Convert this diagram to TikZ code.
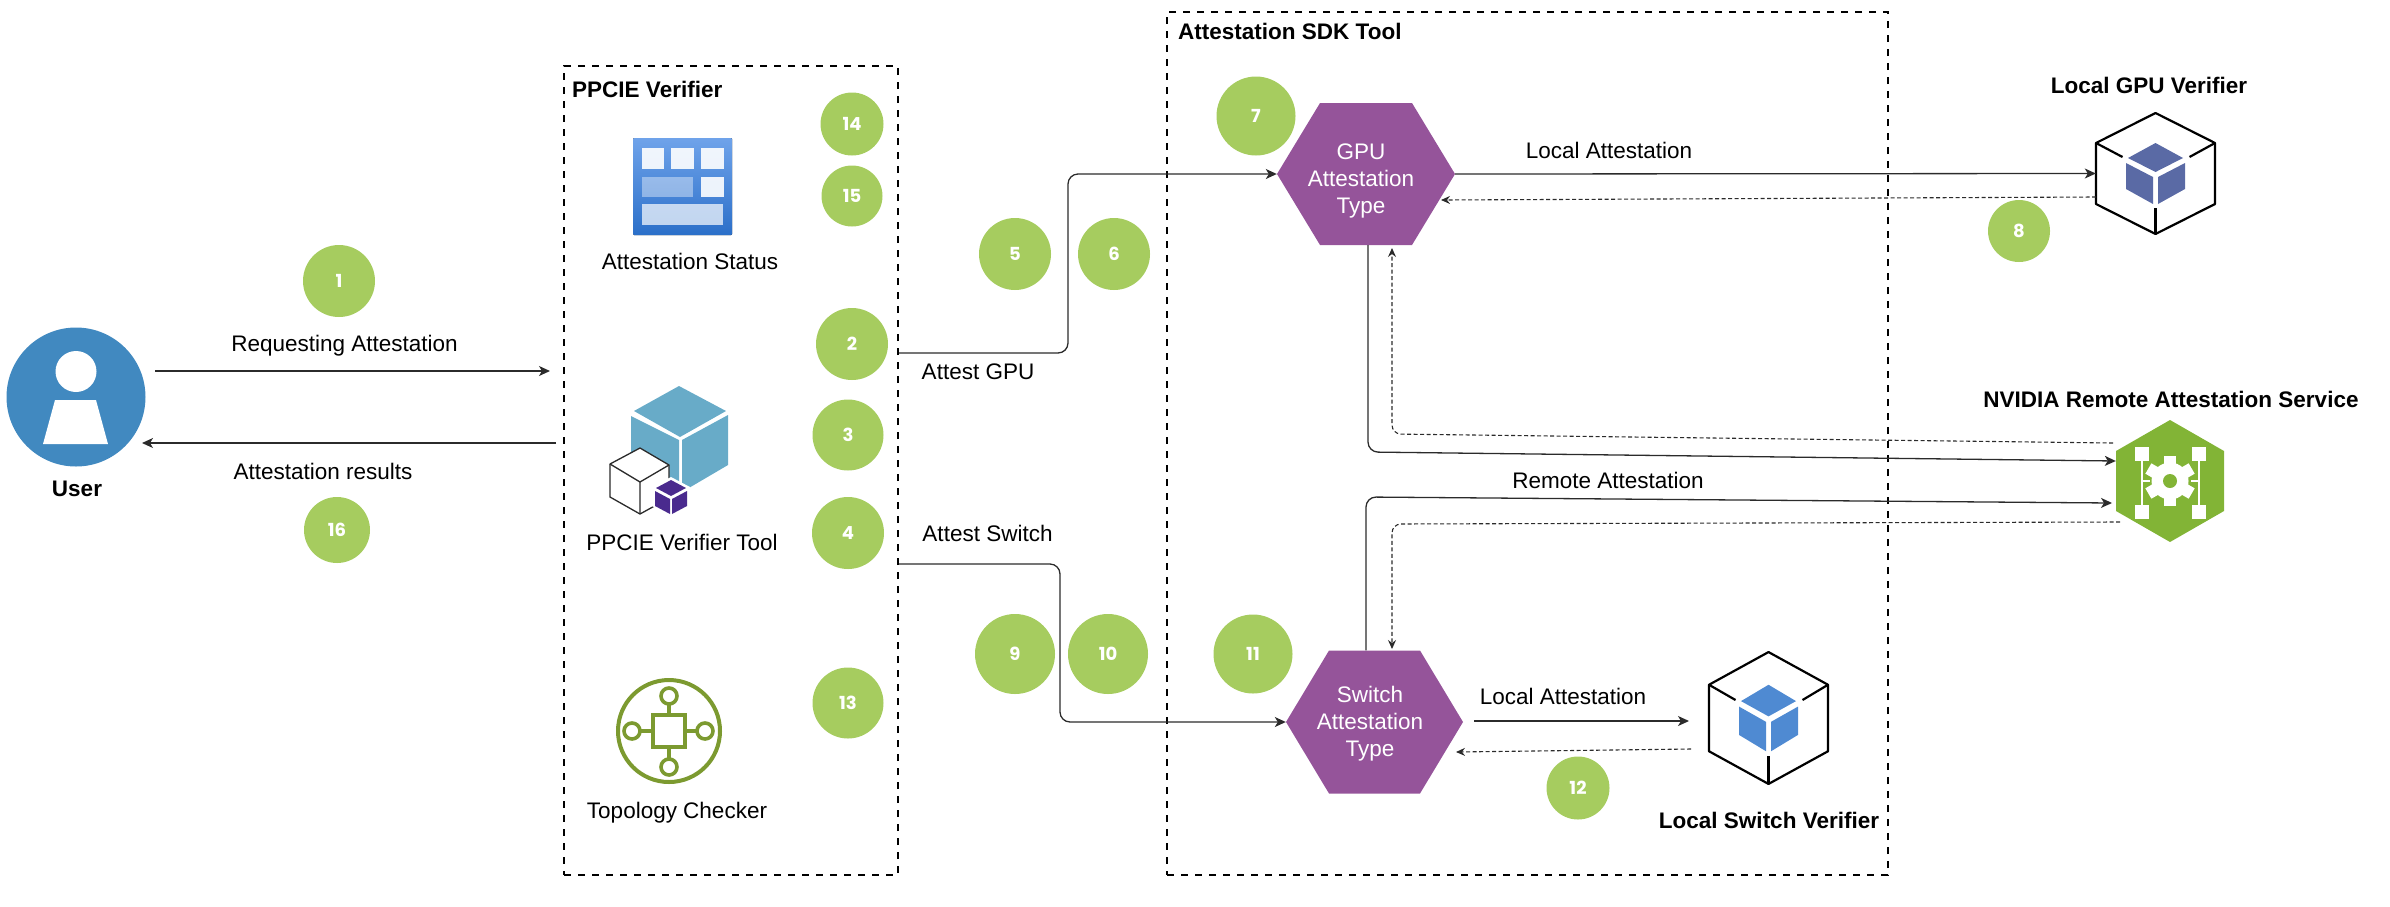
\documentclass[tikz,border=0pt]{standalone}
\usepackage{fontspec}
\setmainfont{Liberation Sans}
\newfontfamily\badgefont{Poppins}
\usetikzlibrary{arrows.meta, calc, shapes.geometric}
\definecolor{BadgeGreen}{HTML}{A6CC5F}
\definecolor{HexPurple}{HTML}{95549A}
\definecolor{UserBlue}{HTML}{4189C0}
\definecolor{TileTop}{HTML}{6FA3EA}
\definecolor{TileBottom}{HTML}{2B6FC9}
\definecolor{CubeTeal}{HTML}{68ABC8}
\definecolor{MiniPurple}{HTML}{4A2A8E}
\definecolor{TopoGreen}{HTML}{7C9A30}
\definecolor{ServiceGreen}{HTML}{82B436}
\definecolor{GpuBlue}{HTML}{5A6AA5}
\definecolor{SwitchBlue}{HTML}{4F8AD2}
\definecolor{LineDark}{HTML}{2B2B2B}
\tikzset{
  textlabel/.style={inner sep=0pt, font=\fontsize{22.5}{26}\selectfont},
  boldlabel/.style={inner sep=0pt, font=\fontsize{22.5}{26}\selectfont\bfseries},
  hextext/.style={inner sep=0pt, align=center, text=white, font=\fontsize{22.5}{27}\selectfont},
  badge/.style={circle, fill=BadgeGreen, text=white, inner sep=0pt, font=\fontsize{18}{22}\selectfont\badgefont\bfseries},
  groupbox/.style={draw=black, line width=2.4pt, dash pattern=on 7pt off 7pt, inner sep=0pt},
  hexbox/.style={minimum width=178pt, minimum height=142pt, inner sep=0pt,
    path picture={\fill[HexPurple] (path picture bounding box.west) -- ([xshift=43pt]path picture bounding box.north west) -- ([xshift=-43pt]path picture bounding box.north east) -- (path picture bounding box.east) -- ([xshift=-43pt]path picture bounding box.south east) -- ([xshift=43pt]path picture bounding box.south west) -- cycle;}},
  servicehex/.style={minimum width=108pt, minimum height=122pt, inner sep=0pt,
    path picture={\fill[ServiceGreen] (path picture bounding box.north) -- ([yshift=-31pt]path picture bounding box.north east) -- ([yshift=31pt]path picture bounding box.south east) -- (path picture bounding box.south) -- ([yshift=31pt]path picture bounding box.south west) -- ([yshift=-31pt]path picture bounding box.north west) -- cycle;}},
  iconbox/.style={minimum width=119pt, minimum height=121pt, inner sep=0pt},
  arrow/.style={-{Stealth[length=11pt, width=10pt, inset=3pt]}, line width=1.3pt, draw=LineDark, rounded corners=10pt},
  backarrow/.style={-{Stealth[length=9pt, width=8pt, inset=3pt]}, line width=1.1pt, draw=LineDark, dash pattern=on 4pt off 2.5pt, rounded corners=9pt},
  verifier/.pic={
    \fill[#1] (0,-30.5) -- (27.5,-15.5) -- (0,-1.5) -- (-27.5,-15.5) -- cycle;
    \fill[#1] (-29.5,-10.5) -- (-2.5,3.5) -- (-2.5,30.5) -- (-29.5,15.5) -- cycle;
    \fill[#1] (29.5,-10.5) -- (2.5,3.5) -- (2.5,30.5) -- (29.5,15.5) -- cycle;
    \draw[line width=2.2pt, line join=round] (0,-60.5) -- (59.5,-30.5) -- (59.5,30.5) -- (0,60.5) -- (-59.5,30.5) -- (-59.5,-30.5) -- cycle;
    \draw[line width=2.2pt] (-59.5,-30.5) -- (-33,-16.5);
    \draw[line width=2.2pt] (59.5,-30.5) -- (34,-16.5);
    \draw[line width=2.2pt] (0,60.5) -- (0,34.5);
  }
}
\begin{document}
\begin{tikzpicture}[x=1pt, y=-1pt]
\useasboundingbox (0,0) rectangle (2390,906);
\node[groupbox, minimum width=334pt, minimum height=809pt] (ppcie) at (731,470.5) {};
\node[groupbox, minimum width=721pt, minimum height=863pt] (sdk) at (1527.5,443.5) {};
\node[boldlabel, anchor=west] (ppcielabel) at (572,89) {PPCIE Verifier};
\node[boldlabel, anchor=west] (sdklabel) at (1178,31) {Attestation SDK Tool};

\node[circle, fill=UserBlue, minimum size=139pt, inner sep=0pt] (user) at (76,397) {};
\fill[white] (76,371.5) circle (20.5);
\fill[white] (55,400) -- (96,400) -- (108,444) -- (43,444) -- cycle;
\node[boldlabel] (userlabel) at (77,489) {User};
\node[textlabel] (reqlabel) at (344.5,346) {Requesting Attestation};
\node[textlabel] (reslabel) at (323,471) {Attestation results};

\fill[top color=TileTop, bottom color=TileBottom, rounded corners=1pt] (633,138) rectangle (732,235);
\foreach \xa/\ya/\xb/\yb/\op in {642/148/664/169/0.9, 671/148/694/169/0.9, 701/148/724/169/0.9, 642/177/693/197/0.4, 701/177/724/197/0.9, 642/204/723/225/0.7}
  \fill[white, opacity=\op] (\xa,\ya) rectangle (\xb,\yb);
\node[textlabel] (statuslabel) at (690,261) {Attestation Status};

\fill[CubeTeal] (679,386) -- (726,411) -- (680,437) -- (634,411) -- cycle;
\fill[CubeTeal] (631,416) -- (679,440) -- (679,493) -- (631,465) -- cycle;
\fill[CubeTeal] (682,440) -- (728,415) -- (728,465) -- (682,492) -- cycle;
\filldraw[fill=white, draw=LineDark, line width=1.3pt, line join=round] (640,448) -- (669,465) -- (669,498) -- (640,514) -- (610,497) -- (610,464) -- cycle;
\draw[LineDark, line width=1.3pt] (610,464) -- (640,482) -- (669,465) (640,482) -- (640,514);
\fill[white] (671,477) -- (690,487) -- (690,506) -- (671,517) -- (652,506) -- (652,487) -- cycle;
\fill[MiniPurple] (671,480) -- (686,488) -- (671,496) -- (656,488) -- cycle;
\fill[MiniPurple] (655,491) -- (670,499) -- (670,514) -- (655,506) -- cycle;
\fill[MiniPurple] (687,491) -- (672,499) -- (672,514) -- (687,506) -- cycle;
\node[textlabel] (toollabel) at (682,542) {PPCIE Verifier Tool};

\draw[TopoGreen, line width=4pt] (669,731) circle (51);
\draw[TopoGreen, line width=4pt] (653,715) rectangle (685,747);
\foreach \x/\y in {669/696, 669/767, 632/731, 705/731}
  \draw[TopoGreen, line width=3.6pt] (\x,\y) circle (8);
\draw[TopoGreen, line width=3.6pt] (669,704) -- (669,715) (669,747) -- (669,759) (640,731) -- (653,731) (685,731) -- (697,731);
\node[textlabel] (topologylabel) at (677,813) {Topology Checker};

\node[hexbox] (gpu) at (1366,174) {};
\node[hextext] (gputext) at (1361,181) {GPU\\Attestation\\Type};
\node[hexbox, minimum width=177pt, minimum height=143pt] (switch) at (1374.5,722) {};
\node[hextext] (switchtext) at (1370,724) {Switch\\Attestation\\Type};

\node[iconbox] (gpuverifier) at (2155.5,173.5) {};
\pic at (gpuverifier) {verifier=GpuBlue};
\node[boldlabel] (gpuverifierlabel) at (2149,85) {Local GPU Verifier};
\node[iconbox, minimum height=132pt] (switchverifier) at (1768.5,718) {};
\pic[yscale=1.09] at (switchverifier) {verifier=SwitchBlue};
\node[boldlabel] (switchverifierlabel) at (1769,820) {Local Switch Verifier};

\node[servicehex] (nras) at (2170,481) {};
\foreach \a in {30,90,...,330}
  \fill[white, rotate around={\a:(nras)}] (2170,475) rectangle (2195,487);
\fill[white] (nras) circle (18.5);
\fill[ServiceGreen] (nras) circle (7);
\foreach \x/\y in {2142/454, 2199/454, 2142/512, 2199/512}
  \fill[white] (\x-7,\y-7) rectangle (\x+7,\y+7);
\draw[white, line width=1.6pt] (2142,454) -- (2142,512) (2199,454) -- (2199,512) (2142,481) -- (2150,481) (2199,481) -- (2191,481);
\node[boldlabel] (nraslabel) at (2171,399) {NVIDIA Remote Attestation Service};

\foreach \n/\x/\y/\d in {1/339/281/72, 2/852/344/72, 3/848/435/71, 4/848/533/72, 5/1015/254/72, 6/1114/254/72, 7/1256/116/79, 8/2019/231/62, 9/1015/654/80, 10/1108/654/80, 11/1253/654/79, 12/1578/788/63, 13/848/703/71, 14/852/124/63, 15/852/196/61, 16/337/530/66}
  \node[badge, minimum size=\d pt] (n\n) at (\x,\y) {\n};

\coordinate (reqstart) at (155,371);
\coordinate (reqend) at (550,371);
\coordinate (resstart) at (556,443);
\coordinate (resend) at (142,443);
\draw[arrow] (reqstart) -- (reqend);
\draw[arrow] (resstart) -- (resend);
\node[textlabel] (attestgpu) at (978,372) {Attest GPU};
\node[textlabel] (attestswitch) at (987.5,533) {Attest Switch};
\draw[arrow] (ppcie.east |- 0,353) -- (1068,353) -- (1068,174) -- (gpu.west);
\draw[arrow] (ppcie.east |- 0,564) -- (1060,564) -- (1060,722) -- (switch.west);

\node[textlabel] (gpulocal) at (1609,150) {Local Attestation};
\coordinate (gpuback) at (2096,197);
\coordinate (gpubackend) at (1441,200);
\draw[arrow] (gpu.east) -- (gpuverifier.west);
\draw[backarrow] (gpuback) -- (gpubackend);

\coordinate (nrasin) at ($(nras.west)+(0,-20)$);
\coordinate (nrasback) at (2113,443);
\coordinate (gputip) at (1392,248);
\draw[arrow] (gpu.south -| 1368,0) -- (1368,452) -- (nrasin);
\draw[backarrow] (nrasback) -- (1392,434) -- (gputip);

\node[textlabel] (remotelabel) at (1608,480) {Remote Attestation};
\coordinate (nrasinb) at (2112,503);
\coordinate (nrasout) at (2120,522);
\coordinate (switchtip) at (1392,649);
\draw[arrow] (switch.north -| 1366,0) -- (1366,497) -- (nrasinb);
\draw[backarrow] (nrasout) -- (1392,524) -- (switchtip);

\node[textlabel] (switchlocal) at (1563,696) {Local Attestation};
\coordinate (swlocalstart) at (1474,721);
\coordinate (swlocalend) at (1689,721);
\coordinate (swbackstart) at (1691,749);
\coordinate (swbackend) at (1456,752);
\draw[arrow] (swlocalstart) -- (swlocalend);
\draw[backarrow] (swbackstart) -- (swbackend);
\end{tikzpicture}
\end{document}
